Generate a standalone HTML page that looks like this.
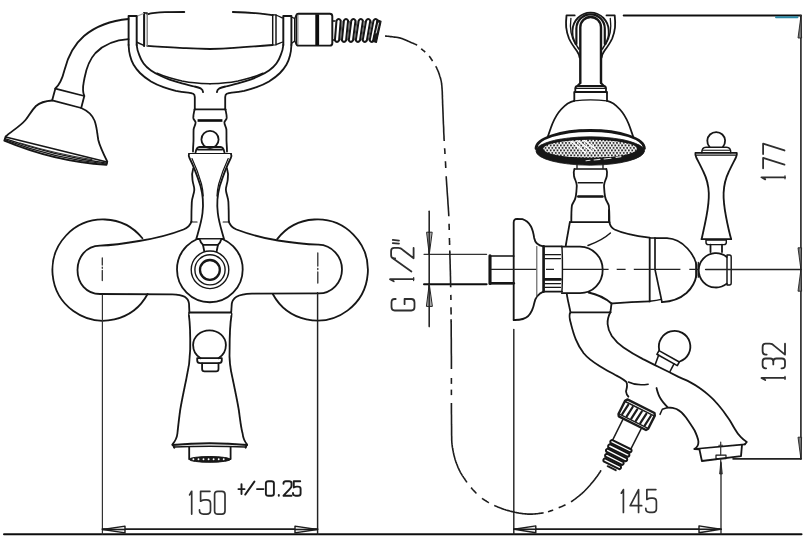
<!DOCTYPE html>
<html><head><meta charset="utf-8"><title>Bath mixer drawing</title>
<style>
html,body{margin:0;padding:0;background:#fff;}
body{width:810px;height:548px;overflow:hidden;font-family:"Liberation Sans",sans-serif;}
svg{display:block;}
</style></head><body>
<svg width="810" height="548" viewBox="0 0 810 548" fill="none" stroke-linecap="round" stroke-linejoin="round">
<rect x="0" y="0" width="810" height="548" fill="#ffffff" stroke="none"/>
<defs><filter id="soft" x="0" y="0" width="810" height="548" filterUnits="userSpaceOnUse"><feGaussianBlur stdDeviation="0.38"/></filter></defs>
<g filter="url(#soft)">
<g id="front">
<path d="M147.3,14.3 C152,13 158,12.4 165,12.2 L184.3,12" stroke="#151515" stroke-width="1.80" />
<path d="M232.8,12 C242,12.3 252,12.9 258.5,13.4 C264,13.9 268,14.5 272.6,15.2" stroke="#151515" stroke-width="1.80" />
<path d="M147.3,45.9 C160,46.8 175,47.6 186,48.2 C196,48.8 204,49 210,49 C220,48.8 228,48.3 234,47.8 C246,47 258,46.2 272.6,45" stroke="#151515" stroke-width="1.80" />
<path d="M144.1,13 V45.9" stroke="#151515" stroke-width="2.04" />
<path d="M147.2,13.3 V45.9" stroke="#777" stroke-width="1.32" />
<path d="M144.1,13 H147.2" stroke="#151515" stroke-width="1.32" />
<path d="M136.9,16.3 L143.6,13.6" stroke="#999" stroke-width="1.08" />
<path d="M136.9,42.3 L143.8,45.4" stroke="#151515" stroke-width="1.56" />
<path d="M272.7,14.8 V45 M276,15 V44.6" stroke="#151515" stroke-width="1.44" />
<path d="M272.7,14.8 H276 M272.7,45 H276" stroke="#151515" stroke-width="1.20" />
<path d="M276.6,15.4 C278.5,16 280.5,17 282.4,17.8 M276.6,44.3 C278.5,43.8 280.5,42.8 282.4,42.2" stroke="#151515" stroke-width="1.32" />
<path d="M128.6,45 V16 H136.7 V45" stroke="#151515" stroke-width="1.92" />
<path d="M128.6,45 C128.8,50 129.3,53 130,55.5 C131,59.5 132,62 133.6,64.8 C135.5,68 137.5,70.5 140,73 C143,76 147,79 151,81.6 C155,84 159,85.7 163.4,87.1 C167.5,88.5 171.5,89.8 175.8,90.9 C180,91.8 184,92.3 188.2,92.7 C190.5,92.9 192,93.2 193.2,93.8 C194.4,94.5 194.8,95.5 194.8,97 V109.5" stroke="#151515" stroke-width="1.80" />
<path d="M136.7,45 C137,49 138,52 139.2,54.9 C140.3,58 141.8,61 143.6,63.6 C145.5,66.3 148,68.5 151,70.4 C154,72.5 157.5,74.3 161,76 C164,77.4 167,78.7 169.6,79.7 C173.5,81 178,82.3 182,83.4 C186,84.5 190.5,85.5 194.4,86.5 C197,87.1 199.3,87.7 200.6,88.4 C202.2,89.3 203,90.5 203.1,92.1" stroke="#151515" stroke-width="1.80" />
<path d="M157,73.3 C162,75.6 166,76.8 169.6,77.8 C174,79 178,80 182,80.9 C186,81.7 190,82.4 194.4,82.8 C199,83.4 204,83.7 210,83.8" stroke="#151515" stroke-width="1.56" />
<path d="M128.6,45 V16 H136.7 V45" stroke="#151515" stroke-width="1.92" transform="matrix(-1 0 0 1 420 0)"/>
<path d="M128.6,45 C128.8,50 129.3,53 130,55.5 C131,59.5 132,62 133.6,64.8 C135.5,68 137.5,70.5 140,73 C143,76 147,79 151,81.6 C155,84 159,85.7 163.4,87.1 C167.5,88.5 171.5,89.8 175.8,90.9 C180,91.8 184,92.3 188.2,92.7 C190.5,92.9 192,93.2 193.2,93.8 C194.4,94.5 194.8,95.5 194.8,97 V109.5" stroke="#151515" stroke-width="1.80" transform="matrix(-1 0 0 1 420 0)"/>
<path d="M136.7,45 C137,49 138,52 139.2,54.9 C140.3,58 141.8,61 143.6,63.6 C145.5,66.3 148,68.5 151,70.4 C154,72.5 157.5,74.3 161,76 C164,77.4 167,78.7 169.6,79.7 C173.5,81 178,82.3 182,83.4 C186,84.5 190.5,85.5 194.4,86.5 C197,87.1 199.3,87.7 200.6,88.4 C202.2,89.3 203,90.5 203.1,92.1" stroke="#151515" stroke-width="1.80" transform="matrix(-1 0 0 1 420 0)"/>
<path d="M157,73.3 C162,75.6 166,76.8 169.6,77.8 C174,79 178,80 182,80.9 C186,81.7 190,82.4 194.4,82.8 C199,83.4 204,83.7 210,83.8" stroke="#151515" stroke-width="1.56" transform="matrix(-1 0 0 1 420 0)"/>
<path d="M194.6,109.3 H225.6" stroke="#151515" stroke-width="1.80" />
<path d="M197.6,120.5 H222.4" stroke="#111" stroke-width="2.64" stroke-linecap="butt"/>
<path d="M194.6,109.3 C194,112 193.2,115 193.3,117.9 C193.5,120 195.6,120.8 195.6,122.6 C195.6,125 193.8,127 193.6,129.6 C193.4,133 193.6,137 193.5,141 C193.3,145 193,148 193,151.5" stroke="#151515" stroke-width="1.80" />
<path d="M194.6,109.3 C194,112 193.2,115 193.3,117.9 C193.5,120 195.6,120.8 195.6,122.6 C195.6,125 193.8,127 193.6,129.6 C193.4,133 193.6,137 193.5,141 C193.3,145 193,148 193,151.5" stroke="#151515" stroke-width="1.80" transform="matrix(-1 0 0 1 420 0)"/>
<circle cx="210" cy="139.5" r="8.6" stroke="#151515" stroke-width="1.80" />
<path d="M195.5,152.6 C196,150 197,147 199.5,147 H220.5 C223,147 224,150 224.5,152.6" stroke="#151515" stroke-width="1.80" />
<path d="M197.6,149.6 H222.4" stroke="#151515" stroke-width="1.56" />
<path d="M193.2,168.5 C192,172 192,177 192.5,180 C193,184 194.5,187 194.3,190 C194,194 192,198 191.8,202 C191.5,208 191.4,215 191.4,221.5" stroke="#151515" stroke-width="1.80" />
<path d="M227,168.5 C228.2,172 228.2,177 227.7,180 C227.2,184 225.7,187 225.9,190 C226.2,194 228.2,198 228.4,202 C228.7,208 228.8,215 228.8,221.5" stroke="#151515" stroke-width="1.80" />
<path d="M191.4,222 H197 M223.2,222 H228.8" stroke="#151515" stroke-width="1.20" />
<path d="M191.4,221.5 C190.5,225 188,227.5 183.5,229.5 C172,234 155,238.5 139,241 C125,243.5 110,245.3 100,245.6 C86,246 77.5,257 77.5,270 C77.5,283 86,294 100,294 L172,294.3 C178,294.5 182,295.3 184.7,296.8 C187.5,298.5 188.6,300.5 189,303.5 L189.4,312.3" stroke="#151515" stroke-width="1.80" />
<path d="M228.8,221.5 C229.7,225 232,227.5 236.5,229.5 C248,234 262,237.8 278,240.5 C292,242.8 308,244.3 318.5,244.6 C332,245 342,256.5 342,269.5 C342,282.5 332,293.4 318.5,293.4 L252,293.6 C244,293.9 239.5,295 236.5,296.7 C233.5,298.5 232.3,300.5 231.8,303.5 L231.2,312.3" stroke="#151515" stroke-width="1.80" />
<circle cx="209.85" cy="269.4" r="32.85" stroke="#151515" stroke-width="1.80" />
<path d="M189,154 H231" stroke="#151515" stroke-width="1.80" />
<path d="M189,154 Q188.2,156 189.5,158 C193,165 197,175 200.5,186 C203,195 203.5,205 202.5,213 C201.5,222 198.5,231 196.3,239 H224 C221.8,231 218.8,222 217.8,213 C216.8,205 217.3,195 219.8,186 C223.3,175 227.3,165 230.8,158 Q232,156 231,154" stroke="#151515" stroke-width="1.80" fill="#fff"/>
<path d="M192,158.5 C195.5,166 199,175 201.5,184 C202.5,188 203,192 203.2,196" stroke="#151515" stroke-width="1.20" />
<path d="M228.2,158.5 C224.7,166 221.2,175 218.7,184 C217.7,188 217.2,192 217,196" stroke="#151515" stroke-width="1.20" />
<path d="M200,239.5 C200.5,242.5 202,244 203,244.8 L204.3,253 H216.6 L218,244.8 C219,244 220.5,242.5 221,239.5 Z" stroke="#fff" stroke-width="0.12" fill="#fff"/>
<path d="M200,240 C200.5,242.5 202,244 203,244.8 H218 C219,244 220.5,242.5 221,240" stroke="#151515" stroke-width="1.80" />
<path d="M203,244.8 L204.3,251.5 M218,244.8 L216.6,251.5" stroke="#151515" stroke-width="1.80" />
<circle cx="210" cy="269.8" r="18.8" stroke="#151515" stroke-width="1.38" fill="#fff"/>
<circle cx="210" cy="269.8" r="15.1" stroke="#151515" stroke-width="1.38" />
<circle cx="209.9" cy="269.9" r="9.9" stroke="#151515" stroke-width="2.28" />
<path d="M147.6,294.0 A50.6,50.6 0 1 1 142.4,238.3" stroke="#151515" stroke-width="1.80" />
<path d="M277.2,239.1 A50.6,50.6 0 1 1 272.9,294.3" stroke="#151515" stroke-width="1.80" />
<path d="M102.3,258 V265 M102.3,267.2 V268.3 M102.3,270.5 V280.5" stroke="#333" stroke-width="1.32" />
<path d="M317.8,253 V266 M317.8,268.3 V269.5 M317.8,272 V283" stroke="#333" stroke-width="1.32" />
<path d="M189.4,312.5 H231.2" stroke="#151515" stroke-width="1.80" />
<path d="M231.2,312.4 Q232.4,314 231.4,316 M189.4,312.4 Q188.3,314 189,316" stroke="#151515" stroke-width="1.44" />
<path d="M189,316 C189.8,322 190.4,335 190.2,349.5 C190,360 188.5,370 186.3,379 C184,390 181.5,402 180.2,410 C178.8,420 178,428 177.4,433.5 C176.8,439 174.5,442 172.5,444.3 L174.4,447.7" stroke="#151515" stroke-width="1.80" />
<path d="M231.4,316 C230.4,322 229.6,335 229.6,349.5 C229,360 230.5,370 232.7,379 C235,390 237.5,402 238.8,410 C240.2,420 241,428 242.6,433.5 C243.2,439 245,442 247,444.3 L245.6,447.7" stroke="#151515" stroke-width="1.80" />
<path d="M172.5,445 Q210,441.6 247,445" stroke="#151515" stroke-width="2.04" />
<path d="M173.6,447 Q210,445.4 246,447" stroke="#151515" stroke-width="1.44" />
<path d="M189.2,447 V459 M230.6,447 V459" stroke="#151515" stroke-width="1.80" />
<ellipse cx="209.9" cy="459.4" rx="20.6" ry="2.9" stroke="#151515" stroke-width="1.0" fill="#1a1a1a"/>
<circle cx="193.4" cy="459.2" r="0.95" fill="#fff" stroke="none"/>
<circle cx="198.5" cy="459.2" r="0.95" fill="#fff" stroke="none"/>
<circle cx="203.5" cy="459.2" r="0.95" fill="#fff" stroke="none"/>
<circle cx="208.6" cy="459.2" r="0.95" fill="#fff" stroke="none"/>
<circle cx="213.6" cy="459.2" r="0.95" fill="#fff" stroke="none"/>
<circle cx="218.7" cy="459.2" r="0.95" fill="#fff" stroke="none"/>
<circle cx="223.7" cy="459.2" r="0.95" fill="#fff" stroke="none"/>
<path d="M200.6,358.2 C196,355.5 193.1,350.5 193.1,345 C193.1,336.8 200.4,330.3 209.5,330.3 C218.6,330.3 225.9,336.8 225.9,345 C225.9,350.5 223,355.5 218.4,358.2" stroke="#151515" stroke-width="1.80" />
<path d="M197.2,358.2 H221.8 V360.5 Q221.8,363.2 218.8,363.2 H200.2 Q197.2,363.2 197.2,360.5 Z" stroke="#151515" stroke-width="1.80" />
<path d="M202.1,363.4 V369 Q202.1,371.4 204.5,371.4 H216.1 Q218.5,371.4 218.5,369 V363.4" stroke="#151515" stroke-width="1.80" />
<path d="M128.5,19 C112,20.5 96,26 84,36 C73,45.5 67.5,58 64.5,70 C62.5,78 60.5,84 55.3,88.5" stroke="#151515" stroke-width="1.80" />
<path d="M128.5,39.2 C115,40 103,45.5 95.5,53 C88.5,60.5 86,70 84.5,78 C83.3,85 81.5,90 84.3,96" stroke="#151515" stroke-width="1.80" />
<path d="M55.3,88.7 L84.3,96 L81.2,108 L52.2,100.3 Z" stroke="#151515" stroke-width="1.80" />
<path d="M52.2,100.5 C45,101 40,102.5 36,106 C31,111 29,116 25.5,120 C20,126.5 11,131.5 5.7,136.5 L4.3,140.6 Q54.6,161.6 106.5,164.8 L107.3,161.6 C104,155 100,147 98.3,140 C97,133 97,127 94.5,120.5 C92,114.5 87,110.5 81.2,108" stroke="#151515" stroke-width="1.80" />
<path d="M5.7,137 L107,162" stroke="#151515" stroke-width="1.80" />
<path d="M5,138.6 Q55,156.2 106.8,163.2" stroke="#151515" stroke-width="1.32" />
<path d="M4.6,139.6 Q55,159 106.6,164" stroke="#151515" stroke-width="1.20" />
<path d="M20,143 Q55,153.6 92,159.6" stroke="#333" stroke-width="1.08" />
<path d="M291.5,17 L294.6,18.5 L296.6,14.6 M291.5,43.5 L294.6,41 L296.6,44.6" stroke="#151515" stroke-width="1.32" />
<path d="M294.6,18.5 V41" stroke="#151515" stroke-width="1.20" />
<path d="M298.6,13.7 H329.8 Q332.3,13.7 332.3,16.2 V43.2 Q332.3,45.6 329.8,45.6 H298.6 Q296.4,45.6 296.4,43.2 V16.2 Q296.4,13.7 298.6,13.7 Z" stroke="#151515" stroke-width="1.92" />
<path d="M298,15 V44.4" stroke="#888" stroke-width="0.96" />
<path d="M317.2,14.3 V45" stroke="#111" stroke-width="3.84" stroke-linecap="butt"/>
<path d="M332.6,21 H335 M332.6,40 H335" stroke="#151515" stroke-width="1.32" />
<path d="M336.5,20.6 Q338.6,17.4 340.7,20.6 L339.1,40.4 Q337.0,43.4 334.9,40.4 Z" stroke="#151515" stroke-width="2.0" fill="#fff"/>
<path d="M342.1,21.5 L340.5,39.8" stroke="#555" stroke-width="1.0"/>
<path d="M343.9,20.6 Q346.0,17.4 348.1,20.6 L346.1,40.4 Q344.0,43.4 341.9,40.4 Z" stroke="#151515" stroke-width="2.0" fill="#fff"/>
<path d="M349.5,21.5 L347.5,39.8" stroke="#555" stroke-width="1.0"/>
<path d="M351.3,20.6 Q353.4,17.4 355.5,20.6 L353.0,40.4 Q350.9,43.4 348.8,40.4 Z" stroke="#151515" stroke-width="2.0" fill="#fff"/>
<path d="M356.9,21.5 L354.4,39.8" stroke="#555" stroke-width="1.0"/>
<path d="M358.7,20.6 Q360.8,17.4 362.9,20.6 L360.0,40.4 Q357.9,43.4 355.8,40.4 Z" stroke="#151515" stroke-width="2.0" fill="#fff"/>
<path d="M364.3,21.5 L361.4,39.8" stroke="#555" stroke-width="1.0"/>
<path d="M366.1,20.6 Q368.2,17.4 370.3,20.6 L366.9,40.4 Q364.8,43.4 362.7,40.4 Z" stroke="#151515" stroke-width="2.0" fill="#fff"/>
<path d="M371.7,21.5 L368.3,39.8" stroke="#555" stroke-width="1.0"/>
<path d="M373.5,20.6 Q375.6,17.4 377.7,20.6 L373.9,40.4 Q371.8,43.4 369.7,40.4 Z" stroke="#151515" stroke-width="2.0" fill="#fff"/>
<path d="M377.2,19.8 L381,21.3 L376.4,42.4 L372.6,41.2 Z" fill="#1a1a1a" stroke="#151515" stroke-width="1.2"/>
<path d="M378.6,23 L376.2,33" stroke="#fff" stroke-width="0.8"/>
</g>
<g id="side">
<path d="M580.3,83 V27.3 A10.35,10.35 0 0 1 601,27.3 V83" stroke="#151515" stroke-width="2.40" />
<path d="M580.3,83 L577.3,86 M601,83 L604,86" stroke="#151515" stroke-width="1.80" />
<path d="M576.4,44 V28.5 A14.2,14.2 0 0 1 604.8,28.5 V44" stroke="#151515" stroke-width="2.16" />
<path d="M572.5,34 V30.8 A18.1,18.1 0 0 1 608.7,30.8 V34" stroke="#151515" stroke-width="1.80" />
<path d="M572.5,34 C573,39 575.5,44 578.8,49 M608.7,34 C608.2,39 605.7,44 602.4,49" stroke="#151515" stroke-width="1.56" />
<path d="M570.9,18.5 C570.3,23 570.3,28 571,32.5 C571.8,37 573.5,41 575.5,44.5 M610.3,18.5 C610.9,23 610.9,28 610.2,32.5 C609.4,37 607.7,41 605.7,44.5" stroke="#151515" stroke-width="1.32" />
<path d="M574.7,15.4 H566.5 C566,20 565.9,24 566.2,27.5 C566.6,31 567.6,35 569,38.5 C570.8,42.5 573.5,46.5 576.9,51 C578.3,53 579.2,55 579.6,57.6" stroke="#151515" stroke-width="1.80" />
<path d="M606.5,15.4 H614.7 C615.2,20 615.3,24 615,27.5 C614.6,31 613.6,35 612.2,38.5 C610.4,42.5 607.7,46.5 604.3,51 C602.9,53 602,55 601.6,57.6" stroke="#151515" stroke-width="1.80" />
<path d="M575.3,92 V88.5 Q575.3,86 578,86 H603.3 Q606,86 606,88.5 V92" stroke="#151515" stroke-width="1.80" />
<path d="M575.3,88.3 H606" stroke="#151515" stroke-width="1.20" />
<path d="M575.3,92 H606 M574.3,92 V100.5 M607,92 V100.5" stroke="#151515" stroke-width="1.80" />
<path d="M575.3,92 L574.3,93 M606,92 L607,93" stroke="#151515" stroke-width="1.20" />
<path d="M574.3,100.8 C570,101.5 565,105 561,109.5 C556,115 554,120 552.3,124 C550.5,128.5 549.3,132.5 547.6,137.3" stroke="#151515" stroke-width="1.80" />
<path d="M607,100.8 C611,101.5 616,105 620,109.5 C625,115 627,120 628.7,124 C630.5,128.5 631.7,132.5 633.4,137.3" stroke="#151515" stroke-width="1.80" />
<path d="M574.3,100.8 Q590.5,99 607,100.8" stroke="#151515" stroke-width="1.32" />
<path d="M536,148.5 A54.2,18 0 0 1 644.4,148.5" stroke="#151515" stroke-width="2.76" />
<ellipse cx="590.2" cy="151" rx="54.2" ry="14.2" fill="#141414" stroke="#141414" stroke-width="0.8"/>
<defs><pattern id="dots" width="3.4" height="5.0" patternUnits="userSpaceOnUse" patternTransform="translate(543,139.2)"><rect width="3.4" height="5.0" fill="#fff"/><ellipse cx="0.85" cy="1.25" rx="1.05" ry="0.95" fill="#1a1a1a"/><ellipse cx="2.55" cy="3.75" rx="1.05" ry="0.95" fill="#1a1a1a"/></pattern><clipPath id="facec"><ellipse cx="590.2" cy="148.8" rx="47" ry="9"/></clipPath></defs>
<ellipse cx="590.2" cy="148.8" rx="47" ry="9" fill="url(#dots)" stroke="none"/>
<g clip-path="url(#facec)"><path d="M571,141 L586,153 M577.5,140.5 L592,151.5 M584,140 L596,149.5" stroke="#fff" stroke-width="1.5"/><path d="M560,158 Q590,161 622,157.5" stroke="#141414" stroke-width="2.2"/></g>
<path d="M586,160.8 L590,160.2 M594,160 L600,159.4 M604,159 L611,158.2 M616,157.4 L621,156.6" stroke="#ddd" stroke-width="1.08" />
<path d="M577,164.2 V168.5 M603,164.2 V168.5" stroke="#151515" stroke-width="1.32" />
<path d="M574.4,169 H606.4" stroke="#151515" stroke-width="1.32" />
<path d="M574.4,169 C573.6,171 573.6,174 574,176 C574.6,179.5 577,182.5 576.8,185.7 C576.6,189.5 576.4,193 575.8,196.5 C575,201 572.5,203 571.9,205.5 C571.3,210 571.3,216 571.3,222.2" stroke="#151515" stroke-width="1.80" />
<path d="M606.4,169 C607.2,171 607.2,174 606.8,176 C606.2,179.5 603.8,182.5 604,185.7 C604.2,189.5 604.4,193 605,196.5 C605.8,201 608.2,203 608.8,205.5 C609.4,210 609.4,216 609.4,222.2" stroke="#151515" stroke-width="1.80" />
<path d="M578.2,182.7 H602.5" stroke="#151515" stroke-width="1.44" />
<path d="M578.2,196.5 H602.5" stroke="#151515" stroke-width="2.40" />
<path d="M569.9,222.2 H609.4" stroke="#151515" stroke-width="1.80" />
<path d="M569.9,222.2 C568.5,230 567,238 565.8,245.5" stroke="#151515" stroke-width="1.80" />
<path d="M609.4,222.2 C610,226 611.5,228 614.5,229.5 C622,233 636,236 649.5,237.7" stroke="#151515" stroke-width="1.80" />
<path d="M610.4,233 C606,237 599,241.5 588,245.5" stroke="#151515" stroke-width="1.44" />
<path d="M561.9,246.6 H580 C593,247 602.7,257 602.7,269.7 C602.7,283 593,293 580,293.2 H561.9" stroke="#151515" stroke-width="1.80" />
<path d="M543.6,246.4 H561.9 M543.6,291.6 H561.9" stroke="#151515" stroke-width="1.80" />
<path d="M543.6,246.4 V291.6" stroke="#151515" stroke-width="2.64" />
<path d="M561.9,246.4 C562.6,254 562.6,284 561.9,291.6" stroke="#151515" stroke-width="1.44" />
<path d="M545,254.7 H560.5 M545,258.6 H560.5 M545,283.6 H560.5 M545,287.4 H560.5" stroke="#151515" stroke-width="1.32" />
<path d="M545,279.4 H560.5" stroke="#151515" stroke-width="2.64" />
<path d="M513.7,320 V222.5 Q513.7,219 517,218.9 L522.5,219.2 C526,220.3 529,223 531,226.5 C532.8,230 533.6,234 534.2,238 C535,242.5 537.5,245.5 543.4,246.4" stroke="#151515" stroke-width="1.80" />
<path d="M543.4,291.6 C537.5,294 535.3,298 534.3,303 C533.3,308 531.5,312.5 528.3,316 C525,319 520,320.2 513.7,320" stroke="#151515" stroke-width="1.80" />
<path d="M536.8,246.5 V296" stroke="#555" stroke-width="1.08" />
<path d="M513.7,256 H490 M513.7,283.3 H490" stroke="#151515" stroke-width="1.68" />
<path d="M490,255.7 V283.5" stroke="#151515" stroke-width="3.12" />
<path d="M490.5,283.3 H513.7" stroke="#151515" stroke-width="2.64" />
<path d="M566.8,294 C567.6,300 569.3,306 570.5,312.3 H610.6" stroke="#151515" stroke-width="1.80" />
<path d="M588.5,292.5 C596,294 605,298 611.5,303.5 C618,303 630,302 649.7,301.3" stroke="#151515" stroke-width="1.80" />
<path d="M611.5,303.5 C611.2,306 610.8,309.5 610.4,312" stroke="#151515" stroke-width="1.80" />
<path d="M570.5,312.3 C569,314 569.3,318 570.9,323.6 C572.5,330 574,335 575.8,339.4 C578,345 580.5,349 583.7,353.2 C588,358.5 594,362.5 599.5,366 C605,369.5 610,372 615.3,375 C620,377.5 624,379.5 626.3,381.9 C627.5,384 627,388 626,391.5 C626.3,394 627.3,395.5 628.4,396.7" stroke="#151515" stroke-width="1.80" />
<path d="M610.4,312 C608.5,316 607.3,320 607.6,324 C608,329 609.5,332.5 611.8,336 C615,340.5 619,344.5 623.5,347.5 C630,352 636,355.5 643,359.1 C648,361.5 653,364.2 658.8,367 C665,370 672,373.5 678.5,376.9 C683,379 686.5,380.3 689.5,381.9 C693.5,384 697,386 700,388.3 C703.5,390.8 706.5,393.2 709.3,395.7 C712.5,398.5 715,401 717.5,404 C720.5,407.5 723,410.5 725,413.5 C727,416.5 729,419 730.5,421.5 C732.5,425 733.8,427.3 735,429.3 C737,432.8 738.8,435.3 740.9,437.2 C742.8,439.2 744.8,440.8 746.8,442 L744.8,444.3" stroke="#151515" stroke-width="1.80" />
<path d="M656.5,388 C657.5,392 658.5,395.5 660.5,398.5 C662.5,402 665,404.5 667.9,407.5 C671,407.5 674,408 676.5,409 C680.5,411 683.5,414 686,417.5 C689.5,422.5 692.5,427 694.6,430.5 C696.5,434.5 698,438 698.4,441.5 C698.6,445 697,447.5 694.4,449 L699.4,449.3" stroke="#151515" stroke-width="1.80" />
<path d="M667.9,407.5 L662.3,409.3 L660,414.4" stroke="#151515" stroke-width="1.44" />
<path d="M628.4,382 C632,383.8 637,384.8 641,384.8 C644,384.8 646.5,384.5 648.2,384.2" stroke="#151515" stroke-width="1.44" />
<path d="M694.4,449 L744.8,444.3" stroke="#151515" stroke-width="1.68" />
<path d="M699.4,449.3 L701.9,461 L741,456.2 L742,444.8" stroke="#151515" stroke-width="1.80" />
<path d="M716,455.2 H726 V458.6 H716 Z" stroke="#151515" stroke-width="1.20" />
<path d="M659.2,350 A15.75,15.75 0 1 1 679.8,361.5" stroke="#151515" stroke-width="1.80" />
<path d="M659.0,350.6 L679.3,362 L677.3,365.6 L656.9,354.3 Z" stroke="#151515" stroke-width="1.56" />
<path d="M658.6,355.3 L655.3,364.2 M674,363.8 L670,371.5" stroke="#151515" stroke-width="1.56" />
<path d="M627.3,399.4 L654.5,413.0 L654.8,415.6 L648.2,428.8 L646.0,430.0 L618.8,416.4 L618.5,414.0 L625.1,400.8 Z" stroke="#1c1c1c" stroke-width="2.4" fill="#fff"/>
<path d="M625.2,401.5 L654.1,415.9" stroke="#1c1c1c" stroke-width="1.5" fill="none"/>
<path d="M619.0,413.8 L648.0,428.3" stroke="#1c1c1c" stroke-width="1.3" fill="none"/>
<path d="M628.2,404.8 L622.2,414.1" stroke="#1c1c1c" stroke-width="2.2" fill="none"/>
<path d="M632.7,407.0 L626.7,416.3" stroke="#1c1c1c" stroke-width="2.2" fill="none"/>
<path d="M637.2,409.3 L631.3,418.6" stroke="#1c1c1c" stroke-width="2.2" fill="none"/>
<path d="M641.8,411.5 L635.8,420.9" stroke="#1c1c1c" stroke-width="2.2" fill="none"/>
<path d="M646.3,413.8 L640.3,423.1" stroke="#1c1c1c" stroke-width="2.2" fill="none"/>
<path d="M650.8,416.0 L644.8,425.4" stroke="#1c1c1c" stroke-width="2.2" fill="none"/>
<path d="M623.3,418.7 L612.6,440.1" stroke="#1c1c1c" stroke-width="1.5" fill="none"/>
<path d="M641.6,427.8 L630.8,449.2" stroke="#1c1c1c" stroke-width="1.5" fill="none"/>
<path d="M612.0,439.9 L631.4,449.5 Q632.2,451.8 629.9,452.5 L610.5,442.9 Q609.7,440.6 612.0,439.9 Z" stroke="#151515" stroke-width="2.0" fill="#fff"/>
<path d="M609.9,444.2 L629.2,453.9 Q630.0,456.2 627.7,456.9 L608.3,447.3 Q607.5,445.0 609.9,444.2 Z" stroke="#151515" stroke-width="2.0" fill="#fff"/>
<path d="M607.7,448.6 L627.0,458.3 Q627.8,460.6 625.5,461.3 L606.2,451.7 Q605.3,449.4 607.7,448.6 Z" stroke="#151515" stroke-width="2.0" fill="#fff"/>
<path d="M606.8,453.7 L623.5,462.0 Q624.3,464.3 622.0,465.0 L605.3,456.7 Q604.5,454.4 606.8,453.7 Z" stroke="#151515" stroke-width="2.0" fill="#fff"/>
<path d="M605.1,458.3 L620.8,466.1 Q621.7,468.5 619.3,469.2 L603.6,461.3 Q602.7,459.0 605.1,458.3 Z" stroke="#151515" stroke-width="2.0" fill="#fff"/>
<path d="M607.7,466.2 L615.7,470.2" stroke="#1c1c1c" stroke-width="2.0" fill="none"/>
<path d="M608.8,210 V222.2" stroke="#151515" stroke-width="1.56" />
<path d="M649.7,238 V301.4" stroke="#151515" stroke-width="1.80" />
<path d="M655,238.2 V269.4 L662,302.2" stroke="#151515" stroke-width="1.68" />
<path d="M649.7,238 H655" stroke="#151515" stroke-width="1.32" />
<path d="M649.7,301.3 C654,300.8 658,300.2 661.3,299.4" stroke="#151515" stroke-width="1.44" />
<path d="M655,238.2 H667 C675,238.6 682,242.5 687.5,248.5 C692.5,254 695.5,260 696.5,265 V275 C695.5,280.5 692,288 686.5,293 C680.5,298.2 672,301.6 662,302.2" stroke="#151515" stroke-width="1.80" />
<path d="M695.9,262 V277.6 M698.3,262.4 V277.2" stroke="#151515" stroke-width="1.32" />
<path d="M726.8,257 A17.2,17.2 0 1 0 726.8,283.6" stroke="#151515" stroke-width="1.80" />
<path d="M727,255 H729.5 Q731.2,255 731.2,257 V283 Q731.2,285 729.5,285 H727 Z" stroke="#151515" stroke-width="1.44" />
<path d="M710.5,252 V244.6 M722,252 V244.6" stroke="#151515" stroke-width="1.80" />
<path d="M706,240 H726.3 V242.5 Q726.3,244.6 724,244.6 H708.3 Q706,244.6 706,242.5 Z" stroke="#151515" stroke-width="1.44" />
<path d="M701.6,239.2 H731.2" stroke="#151515" stroke-width="1.80" />
<path d="M701.6,239.2 C703,233 705,224 706.5,216 C708,208 709,200 708.8,193 C708.5,186 706.5,178 703.5,172 C701,166.5 698,161 696.3,157.5 Q695,155 695.4,152.8 H736.8 Q737.2,155 735.9,157.5 C734.2,161 731.2,166.5 728.7,172 C725.7,178 723.9,186 723.6,193 C723.4,200 724.4,208 725.9,216 C727.4,224 729.4,233 731.2,239.2" stroke="#151515" stroke-width="1.80" />
<path d="M696.5,155.2 H735.8" stroke="#151515" stroke-width="1.20" />
<path d="M701.8,152.8 C701.8,149.5 703,147.2 706,147.2 H726.5 C729.5,147.2 730.8,149.5 730.8,152.8" stroke="#151515" stroke-width="1.44" />
<path d="M703.2,150.3 H729.4" stroke="#151515" stroke-width="1.08" />
<path d="M709.5,146.8 A8.9,8.9 0 1 1 722.9,146.8" stroke="#151515" stroke-width="1.80" />
</g>
<g id="dims">
<path d="M4,534.2 H801.5" stroke="#111" stroke-width="2.04" />
<path d="M102.4,295 V534" stroke="#333" stroke-width="1.20" />
<path d="M317.6,292.7 V534" stroke="#222" stroke-width="1.44" />
<path d="M102.4,529.2 H317.6" stroke="#1c1c1c" stroke-width="1.74" />
<path d="M103,529.5 L125,526.1 L125,532.9 Z" stroke="#1c1c1c" stroke-width="1.4" fill="#eee"/>
<path d="M103,529.5 L125,529.5" stroke="#1c1c1c" stroke-width="1.5"/>
<path d="M317,529.5 L295,526.1 L295,532.9 Z" stroke="#1c1c1c" stroke-width="1.4" fill="#eee"/>
<path d="M317,529.5 L295,529.5" stroke="#1c1c1c" stroke-width="1.5"/>
<path d="M513.8,329.5 V534" stroke="#222" stroke-width="1.44" />
<path d="M721,463 V534" stroke="#222" stroke-width="1.32" />
<path d="M720.7,442 V455 M720.7,459 V470" stroke="#333" stroke-width="1.20" />
<path d="M718.8,445.3 H722.6" stroke="#333" stroke-width="1.08" />
<path d="M720.8,462 L719.6,474 L722,474 Z" stroke="#222" stroke-width="0.8" fill="#333"/>
<path d="M513.8,529.2 H721" stroke="#1c1c1c" stroke-width="1.74" />
<path d="M514.3,529.3 L535.8,525.9 L535.8,532.6999999999999 Z" stroke="#1c1c1c" stroke-width="1.4" fill="#eee"/>
<path d="M514.3,529.3 L535.8,529.3" stroke="#1c1c1c" stroke-width="1.5"/>
<path d="M720.5,529.3 L699.0,525.9 L699.0,532.6999999999999 Z" stroke="#1c1c1c" stroke-width="1.4" fill="#eee"/>
<path d="M720.5,529.3 L699.0,529.3" stroke="#1c1c1c" stroke-width="1.5"/>
<path d="M623.7,15.6 H801" stroke="#111" stroke-width="2.04" />
<path d="M776,17.3 H797.5" stroke="#2b89a6" stroke-width="1.92" />
<path d="M800.9,15.6 V458.9" stroke="#333" stroke-width="1.74" />
<path d="M733,458.9 H801" stroke="#222" stroke-width="1.56" />
<path d="M705.6,269.4 H801" stroke="#222" stroke-width="1.50" />
<path d="M800.9,16.5 L797.9999999999999,38.0 L801.1999999999999,38.0 Z" stroke="#222" stroke-width="0.9" fill="#777"/>
<path d="M800.9,269.3 L797.9999999999999,247.8 L801.1999999999999,247.8 Z" stroke="#222" stroke-width="0.9" fill="#777"/>
<path d="M800.9,269.7 L797.9999999999999,291.2 L801.1999999999999,291.2 Z" stroke="#222" stroke-width="0.9" fill="#777"/>
<path d="M800.9,458.7 L797.9999999999999,437.2 L801.1999999999999,437.2 Z" stroke="#222" stroke-width="0.9" fill="#777"/>
<path d="M429.2,211.3 V326.6" stroke="#222" stroke-width="1.56" />
<path d="M424,254.3 H486.6" stroke="#333" stroke-width="1.20" />
<path d="M424,284.3 H486.6" stroke="#111" stroke-width="2.04" />
<path d="M429.2,254.2 L426.59999999999997,232.2 L431.8,232.2 Z" stroke="#222" stroke-width="1.0" fill="#aaa"/>
<path d="M429.2,254.2 L429.2,232.2" stroke="#222" stroke-width="1.4"/>
<path d="M429.2,284.4 L426.4,306.4 L432.0,306.4 Z" stroke="#222" stroke-width="1.0" fill="#aaa"/>
<path d="M429.2,284.4 L429.2,306.4" stroke="#222" stroke-width="1.4"/>
<path d="M490.7,269.4 H536.2 M546,269.4 H554 M562.8,269.4 H608.6 M616.7,269.4 H625.6 M633.8,269.4 H680.4 M689.3,269.4 H698.5" stroke="#222" stroke-width="1.38" stroke-linecap="butt"/>
<path d="M385.0,36.0 L385.4,36.0 L385.8,36.1 L386.3,36.1 L386.9,36.2 L387.6,36.3 L388.3,36.3 L389.0,36.4 L389.7,36.5 L390.4,36.6 L391.2,36.6 L391.9,36.7 L392.5,36.8 L393.1,36.9 L393.8,37.0 L394.4,37.1 L395.1,37.1 L395.8,37.2 L396.4,37.3 L397.1,37.4 L397.7,37.5 L398.3,37.6 L398.9,37.8 L399.5,37.9 L400.0,38.0 L400.5,38.1 L401.0,38.3 L401.4,38.4 L401.9,38.5 L402.3,38.7 L402.7,38.8 L403.0,39.0 L403.4,39.1 L403.8,39.3 L404.2,39.5 L404.6,39.6 L405.0,39.8 L405.4,40.0 L405.8,40.1 L406.2,40.3 L406.6,40.5 L407.0,40.6 L407.4,40.8 L407.8,41.0 L408.2,41.2 L408.6,41.4 L409.0,41.6 L409.5,41.8 L410.0,42.0 L410.5,42.2 L411.1,42.5 L411.7,42.7 L412.3,43.0 L413.0,43.2 L413.6,43.5 L414.2,43.8 L414.9,44.1 L415.5,44.4 L416.1,44.6 L416.6,44.9 L417.1,45.2" stroke="#1c1c1c" stroke-width="1.6" stroke-linecap="butt" fill="none"/>
<path d="M421.2,48.7 L421.5,49.0 L421.9,49.3 L422.2,49.5 L422.5,49.8 L422.9,50.1 L423.2,50.4 L423.5,50.6 L423.9,50.9 L424.2,51.2 L424.5,51.5 L424.9,51.8 L425.2,52.1" stroke="#1c1c1c" stroke-width="1.6" stroke-linecap="butt" fill="none"/>
<path d="M429.2,56.1 L429.5,56.5 L429.8,56.9 L430.1,57.3 L430.4,57.7 L430.7,58.1 L430.9,58.5 L431.2,59.0 L431.5,59.4 L431.8,59.8 L432.1,60.2 L432.3,60.7 L432.6,61.1" stroke="#1c1c1c" stroke-width="1.6" stroke-linecap="butt" fill="none"/>
<path d="M435.8,66.2 L436.1,66.8 L436.4,67.3 L436.7,67.9 L436.9,68.5 L437.2,69.2 L437.5,69.8 L437.8,70.5 L438.1,71.2 L438.4,71.9 L438.7,72.7 L438.9,73.4 L439.2,74.2 L439.5,75.0 L439.7,75.8 L439.9,76.5 L440.2,77.3 L440.4,78.1 L440.7,78.9 L440.9,79.8 L441.1,80.7 L441.3,81.7 L441.5,82.8 L441.6,84.0 L441.8,85.2 L441.9,86.5 L442.0,87.9 L442.1,89.4 L442.2,90.9 L442.3,92.4 L442.3,94.1 L442.4,95.8 L442.4,97.6 L442.5,99.4 L442.6,101.3 L442.6,103.3 L442.7,105.3 L442.8,107.5 L442.9,110.0 L443.0,112.6 L443.1,115.4 L443.2,118.2 L443.3,121.0 L443.4,123.8 L443.6,126.5 L443.7,129.0 L443.7,131.3 L443.8,133.3 L443.9,135.0 L444.0,136.3 L444.0,137.3 L444.0,138.0 L444.0,138.5 L444.1,138.8 L444.1,139.0 L444.1,139.2 L444.1,139.4 L444.1,139.6 L444.1,139.9 L444.2,140.3 L444.2,141.0" stroke="#1c1c1c" stroke-width="1.6" stroke-linecap="butt" fill="none"/>
<path d="M444.6,148.2 L444.7,149.3 L444.8,150.5 L444.9,151.7 L444.9,152.9 L445.0,154.0" stroke="#1c1c1c" stroke-width="1.6" stroke-linecap="butt" fill="none"/>
<path d="M445.4,161.3 L445.5,162.5 L445.6,163.7 L445.6,164.9 L445.7,166.0 L445.7,167.0 L445.8,168.0" stroke="#1c1c1c" stroke-width="1.6" stroke-linecap="butt" fill="none"/>
<path d="M446.2,176.2 L446.3,178.5 L446.5,181.3 L446.7,184.6 L447.0,188.2 L447.2,192.0 L447.5,195.9 L447.8,199.8 L448.0,203.7 L448.3,207.4 L448.5,210.8 L448.7,213.8 L448.8,216.3" stroke="#1c1c1c" stroke-width="1.6" stroke-linecap="butt" fill="none"/>
<path d="M449.1,223.8 L449.1,224.7 L449.1,225.5 L449.1,226.3 L449.2,227.1 L449.2,227.9 L449.2,228.9 L449.2,230.0" stroke="#1c1c1c" stroke-width="1.6" stroke-linecap="butt" fill="none"/>
<path d="M449.4,238.0 L449.4,239.2 L449.5,240.5 L449.5,241.9 L449.6,243.4 L449.6,245.0" stroke="#1c1c1c" stroke-width="1.6" stroke-linecap="butt" fill="none"/>
<path d="M449.8,250.4 L449.8,252.4 L449.9,254.5 L449.9,256.6 L450.0,258.7 L450.1,260.9 L450.1,263.2 L450.2,265.4 L450.2,267.7 L450.3,270.0 L450.4,272.3 L450.4,274.7 L450.5,277.1 L450.5,279.6 L450.6,282.1 L450.6,284.7 L450.7,287.2" stroke="#1c1c1c" stroke-width="1.6" stroke-linecap="butt" fill="none"/>
<path d="M450.8,294.9 L450.9,297.5 L450.9,300.0" stroke="#1c1c1c" stroke-width="1.6" stroke-linecap="butt" fill="none"/>
<path d="M451.0,307.3 L451.0,309.7 L451.1,312.0 L451.1,314.4" stroke="#1c1c1c" stroke-width="1.6" stroke-linecap="butt" fill="none"/>
<path d="M451.1,319.3 L451.1,321.9 L451.2,324.5 L451.2,327.2 L451.2,330.0 L451.2,333.0 L451.2,336.0 L451.3,339.2 L451.3,342.5 L451.3,345.9 L451.3,349.2 L451.3,352.6 L451.4,356.0 L451.4,359.4 L451.4,362.7 L451.4,365.9 L451.4,369.0" stroke="#1c1c1c" stroke-width="1.6" stroke-linecap="butt" fill="none"/>
<path d="M451.4,378.0 L451.4,381.0 L451.4,383.9" stroke="#1c1c1c" stroke-width="1.6" stroke-linecap="butt" fill="none"/>
<path d="M451.4,389.6 L451.4,392.4 L451.4,395.1" stroke="#1c1c1c" stroke-width="1.6" stroke-linecap="butt" fill="none"/>
<path d="M451.4,403.0 L451.4,405.5 L451.4,408.1 L451.4,410.6 L451.4,413.0 L451.5,415.5 L451.5,417.8 L451.5,420.1 L451.5,422.3 L451.5,424.4 L451.6,426.4 L451.6,428.3 L451.6,430.0 L451.6,431.6 L451.6,433.0 L451.6,434.3 L451.6,435.5 L451.7,436.6 L451.7,437.6 L451.7,438.5 L451.7,439.4 L451.7,440.3 L451.8,441.2 L451.8,442.1 L451.9,443.0 L452.0,443.9 L452.1,444.9 L452.2,445.7 L452.3,446.6 L452.4,447.4 L452.6,448.2 L452.7,449.0 L452.9,449.8 L453.0,450.6 L453.2,451.4 L453.3,452.2 L453.5,453.0 L453.7,453.8 L453.8,454.6 L454.0,455.3 L454.2,456.1 L454.4,456.8 L454.6,457.6 L454.8,458.3 L455.0,459.1 L455.2,459.8 L455.5,460.6 L455.7,461.3 L456.0,462.1 L456.3,462.9 L456.6,463.7 L456.9,464.4 L457.2,465.2 L457.5,466.0 L457.8,466.8 L458.1,467.6 L458.5,468.4 L458.9,469.2 L459.2,470.0 L459.6,470.7 L460.0,471.5 L460.4,472.3 L460.8,473.0 L461.3,473.8 L461.8,474.6 L462.2,475.3 L462.7,476.1 L463.2,476.8 L463.7,477.6 L464.2,478.3 L464.7,479.0 L465.1,479.7 L465.6,480.4 L466.1,481.1 L466.5,481.7 L467.0,482.4" stroke="#1c1c1c" stroke-width="1.6" stroke-linecap="butt" fill="none"/>
<path d="M471.1,487.6 L471.6,488.1 L472.0,488.7 L472.5,489.2 L472.9,489.7 L473.4,490.2 L473.8,490.6 L474.2,491.1 L474.7,491.6 L475.1,492.0 L475.6,492.5 L476.0,493.0 L476.5,493.4" stroke="#1c1c1c" stroke-width="1.6" stroke-linecap="butt" fill="none"/>
<path d="M482.0,498.3 L482.5,498.7 L483.1,499.1 L483.7,499.5 L484.3,499.9 L484.9,500.3 L485.5,500.6 L486.1,501.0 L486.7,501.4 L487.2,501.7 L487.8,502.1 L488.4,502.4 L488.9,502.7" stroke="#1c1c1c" stroke-width="1.6" stroke-linecap="butt" fill="none"/>
<path d="M494.3,505.4 L494.9,505.7 L495.6,506.0 L496.2,506.3 L496.9,506.6 L497.7,506.9 L498.4,507.2 L499.2,507.5 L499.9,507.8 L500.7,508.1 L501.5,508.4 L502.3,508.7 L503.0,509.0 L503.7,509.3 L504.5,509.5 L505.3,509.7 L506.0,510.0 L506.8,510.2 L507.5,510.4 L508.3,510.6 L509.1,510.8 L509.8,511.0 L510.6,511.2 L511.3,511.4 L512.1,511.6 L512.8,511.8 L513.6,512.0 L514.3,512.1 L515.0,512.3 L515.8,512.5 L516.5,512.6 L517.2,512.8 L517.9,512.9 L518.7,513.0 L519.4,513.2 L520.2,513.3 L521.0,513.4 L521.8,513.5 L522.6,513.6 L523.4,513.7 L524.3,513.8 L525.1,513.9 L525.9,513.9 L526.8,514.0 L527.7,514.1 L528.6,514.1 L529.5,514.1 L530.4,514.1 L531.3,514.1 L532.3,514.1 L533.3,514.0 L534.3,514.0 L535.4,513.9 L536.4,513.8 L537.5,513.7 L538.6,513.5 L539.6,513.4 L540.7,513.3 L541.7,513.1 L542.7,513.0 L543.6,512.8" stroke="#1c1c1c" stroke-width="1.6" stroke-linecap="butt" fill="none"/>
<path d="M548.0,511.7 L548.8,511.5 L549.6,511.2 L550.4,510.9 L551.2,510.7 L551.9,510.4 L552.6,510.2 L553.2,510.0" stroke="#1c1c1c" stroke-width="1.6" stroke-linecap="butt" fill="none"/>
<path d="M558.7,507.8 L559.2,507.6 L559.8,507.3 L560.3,507.1 L560.9,506.9 L561.5,506.6 L562.1,506.4 L562.7,506.1 L563.3,505.8 L563.9,505.6 L564.4,505.3 L565.0,505.1 L565.5,504.8" stroke="#1c1c1c" stroke-width="1.6" stroke-linecap="butt" fill="none"/>
<path d="M571.0,501.8 L571.5,501.5 L572.0,501.2 L572.5,500.8 L573.0,500.5 L573.4,500.2 L573.9,499.8 L574.5,499.4 L575.0,499.1 L575.5,498.7 L576.0,498.3 L576.5,497.9 L577.0,497.5 L577.5,497.1 L578.0,496.7 L578.6,496.3 L579.1,495.8 L579.6,495.4 L580.2,495.0 L580.7,494.5 L581.2,494.0 L581.8,493.6 L582.3,493.1 L582.8,492.7 L583.3,492.2 L583.8,491.7 L584.3,491.3 L584.8,490.8 L585.3,490.3 L585.7,489.8 L586.2,489.3 L586.7,488.8 L587.2,488.3 L587.6,487.8 L588.1,487.3 L588.5,486.8 L589.0,486.3 L589.5,485.8 L589.9,485.2 L590.4,484.7 L590.9,484.1 L591.3,483.6 L591.8,483.0 L592.2,482.5 L592.7,481.9 L593.1,481.4 L593.5,480.9 L593.9,480.4 L594.3,479.9 L594.7,479.4 L595.0,479.0 L595.4,478.6 L595.7,478.1 L596.0,477.7 L596.3,477.3 L596.6,477.0 L596.9,476.6 L597.2,476.2 L597.4,475.8 L597.7,475.4 L598.0,475.0 L598.3,474.6 L598.6,474.2 L598.9,473.7 L599.2,473.2 L599.5,472.8 L599.8,472.3 L600.1,471.9 L600.3,471.5 L600.6,471.1 L600.8,470.8 L601.0,470.5 L601.1,470.3" stroke="#1c1c1c" stroke-width="1.6" stroke-linecap="butt" fill="none"/>
<path d="M0.5,3.5 L4,0 V22" transform="translate(189.3,491.3) scale(0.6000,1.0364)" stroke="#333" stroke-width="1.7" vector-effect="non-scaling-stroke" fill="none"/>
<path d="M9.5,0 H1 V9.5 Q3,8.3 5,8.3 H6.5 Q10,8.3 10,11.8 V18.5 Q10,22 6.5,22 H3.5 Q0,22 0,18.5 V18" transform="translate(199.5,491.3) scale(1.1000,1.0364)" stroke="#333" stroke-width="1.7" vector-effect="non-scaling-stroke" fill="none"/>
<path d="M3,0 H7 Q10,0 10,3 V19 Q10,22 7,22 H3 Q0,22 0,19 V3 Q0,0 3,0 Z" transform="translate(214.6,491.3) scale(1.0400,1.0364)" stroke="#333" stroke-width="1.7" vector-effect="non-scaling-stroke" fill="none"/>
<path d="M0.5,3.5 L4,0 V22" transform="translate(621,489.6) scale(0.6000,1.0364)" stroke="#333" stroke-width="1.7" vector-effect="non-scaling-stroke" fill="none"/>
<path d="M8,22 V0 L0,15.5 H11" transform="translate(630.2,489.6) scale(1.0455,1.0364)" stroke="#333" stroke-width="1.7" vector-effect="non-scaling-stroke" fill="none"/>
<path d="M9.5,0 H1 V9.5 Q3,8.3 5,8.3 H6.5 Q10,8.3 10,11.8 V18.5 Q10,22 6.5,22 H3.5 Q0,22 0,18.5 V18" transform="translate(645.8,489.6) scale(1.0600,1.0364)" stroke="#333" stroke-width="1.7" vector-effect="non-scaling-stroke" fill="none"/>
<path d="M4,4.5 V19.5 M0,12 H8" transform="translate(238.4,481.2) scale(0.7750,0.6591)" stroke="#1e1e1e" stroke-width="1.9" vector-effect="non-scaling-stroke" fill="none"/>
<path d="M10,0 L0,22" transform="translate(245.2,481.6) scale(0.9200,0.5909)" stroke="#1e1e1e" stroke-width="1.9" vector-effect="non-scaling-stroke" fill="none"/>
<path d="M0,12 H8" transform="translate(257,481.2) scale(0.8125,0.6591)" stroke="#1e1e1e" stroke-width="1.9" vector-effect="non-scaling-stroke" fill="none"/>
<path d="M3,0 H7 Q10,0 10,3 V19 Q10,22 7,22 H3 Q0,22 0,19 V3 Q0,0 3,0 Z" transform="translate(265.9,481.2) scale(0.8000,0.6591)" stroke="#1e1e1e" stroke-width="1.9" vector-effect="non-scaling-stroke" fill="none"/>
<path d="M1,21 V22" transform="translate(278.2,481.2) scale(0.6000,0.6591)" stroke="#1e1e1e" stroke-width="2.0" vector-effect="non-scaling-stroke" fill="none"/>
<path d="M0,4 V3 Q0,0 3,0 H7 Q10,0 10,3 V7 Q10,9.5 8,11.5 L0,22 H10" transform="translate(283.5,481.2) scale(0.8000,0.6591)" stroke="#1e1e1e" stroke-width="1.9" vector-effect="non-scaling-stroke" fill="none"/>
<path d="M9.5,0 H1 V9.5 Q3,8.3 5,8.3 H6.5 Q10,8.3 10,11.8 V18.5 Q10,22 6.5,22 H3.5 Q0,22 0,18.5 V18" transform="translate(293,481.2) scale(0.7600,0.6591)" stroke="#1e1e1e" stroke-width="1.9" vector-effect="non-scaling-stroke" fill="none"/>
<path d="M0.5,3.5 L4,0 V22" transform="translate(761.5,179.7) rotate(-90) scale(0.6000,1.0682)" stroke="#2e2e2e" stroke-width="1.8" vector-effect="non-scaling-stroke" fill="none"/>
<path d="M785,175.8 V178.8" stroke="#2e2e2e" stroke-width="1.20" />
<path d="M0,0 H10 L3.5,22" transform="translate(763.1,168.3) rotate(-90) scale(1.0400,0.9727)" stroke="#2e2e2e" stroke-width="1.8" vector-effect="non-scaling-stroke" fill="none"/>
<path d="M0,0 H10 L3.5,22" transform="translate(763.1,154.1) rotate(-90) scale(1.0400,0.9727)" stroke="#2e2e2e" stroke-width="1.8" vector-effect="non-scaling-stroke" fill="none"/>
<path d="M0.5,3.5 L4,0 V22" transform="translate(761.5,380.3) rotate(-90) scale(0.6000,1.0682)" stroke="#2e2e2e" stroke-width="1.8" vector-effect="non-scaling-stroke" fill="none"/>
<path d="M785,376.4 V379.4" stroke="#2e2e2e" stroke-width="1.20" />
<path d="M0,3.5 V3 Q0,0 3,0 H7 Q10,0 10,3 V7.5 Q10,10.5 7,10.5 H4 M7,10.5 Q10,10.5 10,13.5 V19 Q10,22 7,22 H3 Q0,22 0,19 V18.5" transform="translate(762.6,368.3) rotate(-90) scale(0.9800,1.0182)" stroke="#2e2e2e" stroke-width="1.8" vector-effect="non-scaling-stroke" fill="none"/>
<path d="M0,4 V3 Q0,0 3,0 H7 Q10,0 10,3 V7 Q10,9.5 8,11.5 L0,22 H10" transform="translate(762.6,354.6) rotate(-90) scale(1.0900,1.0182)" stroke="#2e2e2e" stroke-width="1.8" vector-effect="non-scaling-stroke" fill="none"/>
<path d="M10,4 V3 Q10,0 7,0 H3 Q0,0 0,3 V19 Q0,22 3,22 H7 Q10,22 10,19 V12.5 H5.5" transform="translate(391.5,310.5) rotate(-90) scale(1.1500,1.0455)" stroke="#2e2e2e" stroke-width="1.8" vector-effect="non-scaling-stroke" fill="none"/>
<path d="M0.5,3.5 L4,0 V22" transform="translate(390,281.5) rotate(-90) scale(0.6000,1.0727)" stroke="#2e2e2e" stroke-width="1.8" vector-effect="non-scaling-stroke" fill="none"/>
<path d="M413.6,277.6 V280.6" stroke="#2e2e2e" stroke-width="1.20" />
<path d="M10,0 L0,22" transform="translate(392.8,271.5) rotate(-90) scale(1.3200,0.8455)" stroke="#2e2e2e" stroke-width="1.8" vector-effect="non-scaling-stroke" fill="none"/>
<path d="M0,4 V3 Q0,0 3,0 H7 Q10,0 10,3 V7 Q10,9.5 8,11.5 L0,22 H10" transform="translate(391.1,258.3) rotate(-90) scale(1.0400,1.0227)" stroke="#2e2e2e" stroke-width="1.8" vector-effect="non-scaling-stroke" fill="none"/>
<path d="M1.5,0 L0.8,6 M5.2,0 L4.5,6" transform="translate(392.8,244.3) rotate(-90) scale(0.8333,1.0227)" stroke="#2e2e2e" stroke-width="1.8" vector-effect="non-scaling-stroke" fill="none"/>
</g>
</g>
</svg>
</body></html>
